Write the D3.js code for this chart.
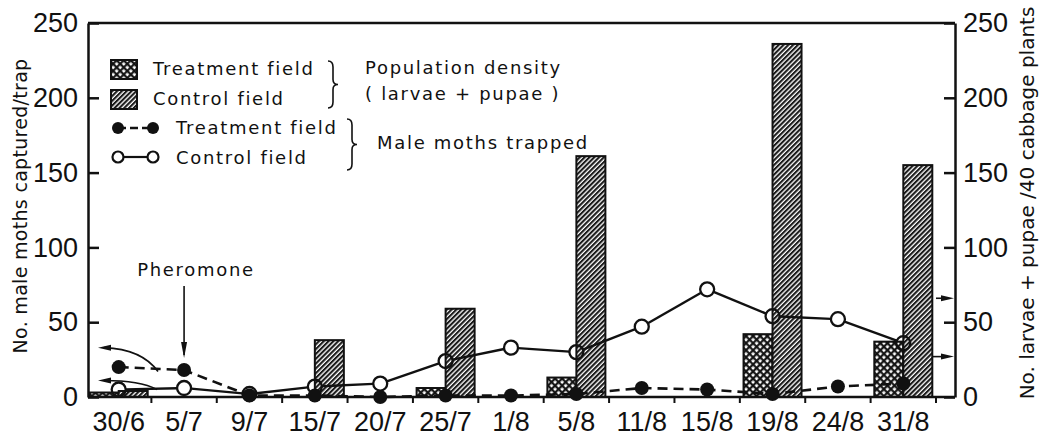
<!DOCTYPE html>
<html>
<head>
<meta charset="utf-8">
<script src="https://cdn.jsdelivr.net/npm/d3@7"></script>
<style>
  body { margin: 0; background: #fff; }
  svg { display: block; }
  .num { font-family: "Liberation Sans", Arial, sans-serif; font-size: 27px; fill: #111; }
  .txt { font-family: "DejaVu Sans", sans-serif; font-size: 18px; letter-spacing: 1.7px; fill: #111; }
</style>
</head>
<body>
<svg width="1041" height="440"></svg>
<script>
// sampling dates
const dates = ["30/6", "5/7", "9/7", "15/7", "20/7", "25/7", "1/8", "5/8", "11/8", "15/8", "19/8", "24/8", "31/8"];
// male moths captured per trap
const mothsTreatment = [20, 18, 1, 1, 0, 1, 1, 2, 6, 5, 2, 7, 9];
const mothsControl = [5, 6, 2, 7, 9, 24, 33, 30, 47, 72, 54, 52, 36];
// larvae + pupae per 40 cabbage plants (null = not sampled)
const densityTreatment = [3, null, null, 0, null, 6, null, 13, null, null, 42, null, 37];
const densityControl = [4, null, null, 38, null, 59, null, 161, null, null, 236, null, 155];
const yTicks = [0, 50, 100, 150, 200, 250];

const svg = d3.select("svg");
const left = 88, right = 955;

const x = d3.scaleBand().domain(dates).range([86, 936]).padding(0);
const yL = d3.scaleLinear().domain([0, 250]).range([397, 23]);
const yR = d3.scaleLinear().domain([0, 250]).range([397, 23]);
const cx = d => x(d) + x.bandwidth() / 2;
const barW = 29;

// patterns
const defs = svg.append("defs");
const hatch = defs.append("pattern")
    .attr("id", "hatch")
    .attr("patternUnits", "userSpaceOnUse")
    .attr("width", 3.4).attr("height", 3.4)
    .attr("patternTransform", "rotate(45)");
hatch.append("rect").attr("width", 3.4).attr("height", 3.4).attr("fill", "#fff");
hatch.append("rect").attr("width", 2.1).attr("height", 3.4).attr("fill", "#1a1a1a");

const cross = defs.append("pattern")
    .attr("id", "cross")
    .attr("patternUnits", "userSpaceOnUse")
    .attr("width", 5).attr("height", 5)
    .attr("patternTransform", "rotate(45)");
cross.append("rect").attr("width", 5).attr("height", 5).attr("fill", "#111");
cross.append("rect").attr("x", 1.3).attr("y", 1.3).attr("width", 2.8).attr("height", 2.8).attr("fill", "#fff");

const arrowHead = (g, px, py, dir) => {
    // dir: "left", "right", "down"
    let pts;
    if (dir === "left") pts = [[px, py], [px + 13, py - 3], [px + 13, py + 3]];
    else if (dir === "right") pts = [[px, py], [px - 13, py - 3], [px - 13, py + 3]];
    else pts = [[px, py], [px - 3, py - 16], [px + 3, py - 16]];
    g.append("path").attr("d", d3.line()(pts) + "Z").attr("fill", "#111");
};

// bars
const bars = svg.append("g");
dates.forEach((d, i) => {
    if (densityTreatment[i] !== null && densityTreatment[i] > 0) {
        bars.append("rect")
            .attr("x", cx(d) - barW).attr("y", yR(densityTreatment[i]))
            .attr("width", barW).attr("height", yR(0) - yR(densityTreatment[i]))
            .attr("fill", "url(#cross)").attr("stroke", "#111").attr("stroke-width", 2);
    }
    if (densityControl[i] !== null) {
        bars.append("rect")
            .attr("x", cx(d)).attr("y", yR(densityControl[i]))
            .attr("width", barW).attr("height", yR(0) - yR(densityControl[i]))
            .attr("fill", "url(#hatch)").attr("stroke", "#111").attr("stroke-width", 2);
    }
});

// frame + axes
svg.append("line").attr("x1", left).attr("x2", right).attr("y1", yL(250)).attr("y2", yL(250))
    .attr("stroke", "#111").attr("stroke-width", 2.5);
svg.append("line").attr("x1", left).attr("x2", right).attr("y1", yL(0)).attr("y2", yL(0))
    .attr("stroke", "#111").attr("stroke-width", 2.5);

const axL = svg.append("g").attr("transform", `translate(${left},0)`)
    .call(d3.axisLeft(yL).tickValues(yTicks).tickSizeInner(-11).tickSizeOuter(0).tickPadding(10));
const axR = svg.append("g").attr("transform", `translate(${right},0)`)
    .call(d3.axisRight(yR).tickValues(yTicks).tickSizeInner(-11).tickSizeOuter(0).tickPadding(8));
const axX = svg.append("g").attr("transform", `translate(0,${yL(0)})`)
    .call(d3.axisBottom(x).tickSize(0).tickPadding(15));
axX.select(".domain").remove();
[axL, axR, axX].forEach(a => {
    a.selectAll(".domain, .tick line").attr("stroke", "#111").attr("stroke-width", 2.5);
    a.selectAll("text").attr("class", "num").attr("fill", "#111");
    a.attr("font-size", null).attr("font-family", null);
});
// ticks between the dates
svg.append("g").selectAll("line").data(dates).join("line")
    .attr("x1", d => x(d) + x.bandwidth()).attr("x2", d => x(d) + x.bandwidth())
    .attr("y1", yL(0)).attr("y2", yL(0) + 6)
    .attr("stroke", "#111").attr("stroke-width", 2);

// axis titles
svg.append("text").attr("class", "txt")
    .attr("transform", `translate(27,206) rotate(-90)`)
    .attr("text-anchor", "middle").style("font-size", "19px").style("letter-spacing", "0.3px")
    .text("No. male moths captured/trap");
svg.append("text").attr("class", "txt")
    .attr("transform", `translate(1034,203) rotate(-90)`)
    .attr("text-anchor", "middle").style("font-size", "20px").style("letter-spacing", "0px")
    .text("No. larvae + pupae /40 cabbage plants");

// moth lines
const r = 7;
const lineG = svg.append("g");
const trimmed = (vals, scale) => {
    const pts = dates.map((d, i) => [cx(d), scale(vals[i])]);
    const segs = [];
    for (let i = 0; i < pts.length - 1; i++) {
        const [x1, y1] = pts[i], [x2, y2] = pts[i + 1];
        const len = Math.hypot(x2 - x1, y2 - y1);
        const ux = (x2 - x1) / len, uy = (y2 - y1) / len;
        segs.push([[x1 + ux * r, y1 + uy * r], [x2 - ux * r, y2 - uy * r]]);
    }
    return segs;
};
lineG.selectAll("path.ctrl").data(trimmed(mothsControl, yL)).join("path")
    .attr("class", "ctrl").attr("d", d => d3.line()(d))
    .attr("stroke", "#111").attr("stroke-width", 2.4).attr("fill", "none");
lineG.append("path")
    .attr("d", d3.line().x((v, i) => cx(dates[i])).y(v => yL(v))(mothsTreatment))
    .attr("stroke", "#111").attr("stroke-width", 2.6).attr("fill", "none")
    .attr("stroke-dasharray", "10,6");
lineG.selectAll("circle.ctrl").data(mothsControl).join("circle")
    .attr("class", "ctrl")
    .attr("cx", (v, i) => cx(dates[i])).attr("cy", v => yL(v)).attr("r", r)
    .attr("fill", "none").attr("stroke", "#111").attr("stroke-width", 2.3);
lineG.selectAll("circle.trt").data(mothsTreatment).join("circle")
    .attr("class", "trt")
    .attr("cx", (v, i) => cx(dates[i])).attr("cy", v => yL(v)).attr("r", 7)
    .attr("fill", "#111");

// annotations
const ann = svg.append("g").attr("fill", "none").attr("stroke", "#111").attr("stroke-width", 1.6);
ann.append("path").attr("d", `M158,${yL(17)} Q142,${yL(32)} 104,${yL(33)}`);
arrowHead(svg, 98, yL(33), "left");
ann.append("path").attr("d", `M157,${yL(5)} Q140,${yL(11)} 104,${yL(11)}`);
arrowHead(svg, 98, yL(11), "left");
ann.append("line").attr("x1", cx("5/7")).attr("x2", cx("5/7")).attr("y1", 286).attr("y2", yL(28));
arrowHead(svg, cx("5/7"), yL(26), "down");
svg.append("text").attr("class", "txt").attr("x", 196).attr("y", 276)
    .attr("text-anchor", "middle").text("Pheromone");
ann.append("line").attr("x1", 936).attr("x2", right - 10).attr("y1", yR(66)).attr("y2", yR(66));
arrowHead(svg, right - 1, yR(66), "right");
ann.append("line").attr("x1", cx("31/8") + barW).attr("x2", right - 10).attr("y1", yR(27)).attr("y2", yR(27));
arrowHead(svg, right - 1, yR(27), "right");

// legend
const leg = svg.append("g");
leg.append("rect").attr("x", 111).attr("y", 60).attr("width", 26).attr("height", 19)
    .attr("fill", "url(#cross)").attr("stroke", "#111").attr("stroke-width", 2);
leg.append("rect").attr("x", 111).attr("y", 90).attr("width", 26).attr("height", 19)
    .attr("fill", "url(#hatch)").attr("stroke", "#111").attr("stroke-width", 2);
leg.append("text").attr("class", "txt").attr("x", 153).attr("y", 75).text("Treatment field");
leg.append("text").attr("class", "txt").attr("x", 153).attr("y", 105).text("Control field");
leg.append("line").attr("x1", 118).attr("x2", 153).attr("y1", 128).attr("y2", 128)
    .attr("stroke", "#111").attr("stroke-width", 2.5).attr("stroke-dasharray", "8,4");
leg.selectAll("circle.lt").data([118, 153]).join("circle").attr("class", "lt")
    .attr("cx", d => d).attr("cy", 128).attr("r", 6).attr("fill", "#111");
leg.append("line").attr("x1", 124).attr("x2", 147).attr("y1", 157).attr("y2", 157)
    .attr("stroke", "#111").attr("stroke-width", 2.2);
leg.selectAll("circle.lc").data([118, 153]).join("circle").attr("class", "lc")
    .attr("cx", d => d).attr("cy", 157).attr("r", 5.5).attr("fill", "#fff")
    .attr("stroke", "#111").attr("stroke-width", 2.2);
leg.append("text").attr("class", "txt").attr("x", 176).attr("y", 134).text("Treatment field");
leg.append("text").attr("class", "txt").attr("x", 176).attr("y", 164).text("Control field");

const brace = (xb, y1, y2) => {
    const m = (y1 + y2) / 2;
    return `M${xb - 3},${y1} Q${xb + 2},${y1} ${xb + 2},${y1 + 6} L${xb + 2},${m - 5} Q${xb + 2},${m} ${xb + 7},${m}` +
        ` Q${xb + 2},${m} ${xb + 2},${m + 5} L${xb + 2},${y2 - 6} Q${xb + 2},${y2} ${xb - 3},${y2}`;
};
leg.append("path").attr("d", brace(331, 61, 108)).attr("fill", "none").attr("stroke", "#111").attr("stroke-width", 1.6);
leg.append("path").attr("d", brace(350, 119, 170)).attr("fill", "none").attr("stroke", "#111").attr("stroke-width", 1.6);
leg.append("text").attr("class", "txt").attr("x", 365).attr("y", 74).text("Population density");
leg.append("text").attr("class", "txt").attr("x", 365).attr("y", 100).text("( larvae + pupae )");
leg.append("text").attr("class", "txt").attr("x", 377).attr("y", 149).text("Male moths trapped");
</script>
</body>
</html>
